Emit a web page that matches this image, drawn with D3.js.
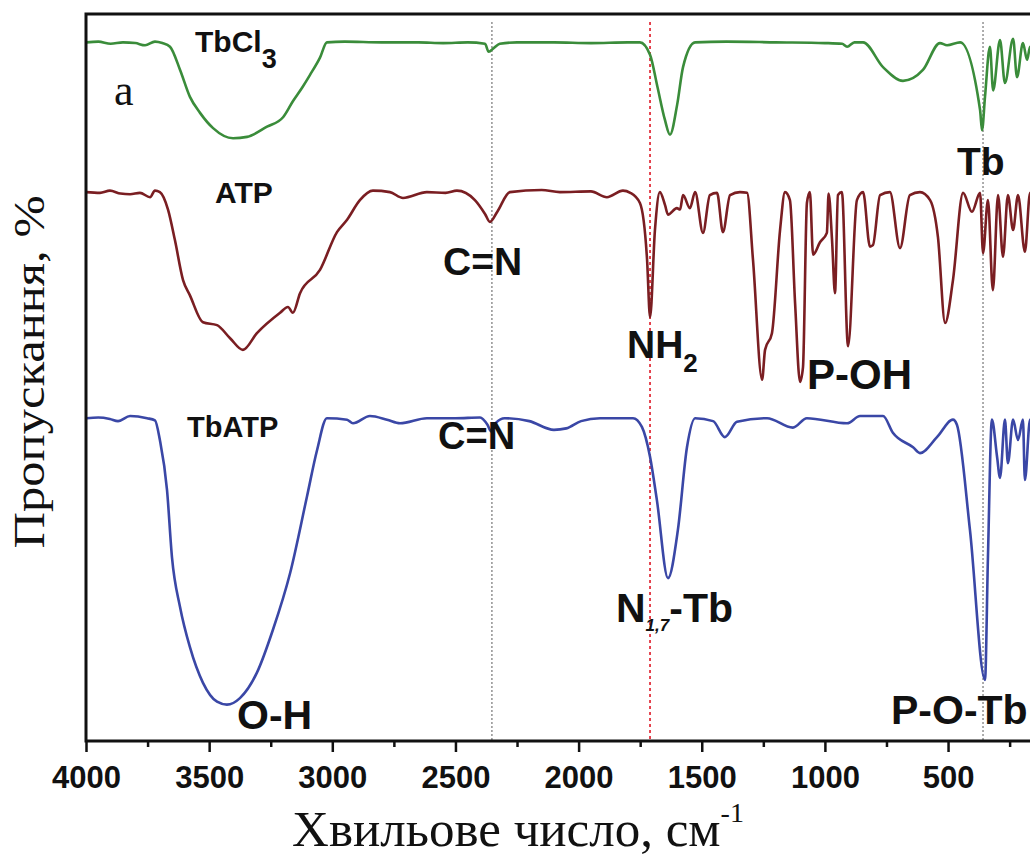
<!DOCTYPE html>
<html>
<head>
<meta charset="utf-8">
<script src="https://cdn.jsdelivr.net/npm/d3@7"></script>
<style>
  html, body { margin: 0; padding: 0; background: #fff; }
  svg { display: block; }
</style>
</head>
<body>
<svg id="chart" width="1030" height="861"></svg>
<script>
// IR spectra: wavenumber (cm-1) and stacked transmittance values
const tbcl3 = [
  [4000,96.1],[3950,96.2],[3900,95.9],[3850,96.1],[3800,96.0],[3760,95.7],[3720,96.2],[3690,96.0],
  [3659,95.5],[3618,92.3],[3578,88.6],[3537,86.4],[3484,84.3],[3403,82.9],[3346,83.1],[3265,84.5],
  [3200,85.8],[3160,88.0],[3120,90.0],[3091,91.6],[3050,94.0],[3022,96.1],[2950,96.2],[2800,96.1],
  [2650,96.1],[2550,96.0],[2450,96.1],[2380,95.9],[2365,94.8],[2345,95.3],[2320,95.9],[2250,96.1],
  [2100,96.1],[1950,96.0],[1800,96.1],[1751,96.1],[1710,94.4],[1680,90.0],[1650,85.5],[1629,83.4],
  [1600,87.5],[1576,92.7],[1527,96.1],[1400,96.2],[1200,96.1],[1000,96.0],[930,95.9],[910,95.5],
  [880,96.1],[845,96.1],[764,92.7],[683,90.8],[602,92.3],[533,96.0],[504,95.7],[451,96.1],
  [370,86.8],[362,84.0],[350,88.6],[330,95.5],[317,89.5],[289,96.4],[269,90.5],[236,96.6],
  [220,91.3],[196,96.0],[179,93.7],[167,95.5],[150,94.5]
];

const atp = [
  [4000,75.5],[3943,75.4],[3903,75.7],[3860,75.3],[3821,75.2],[3781,75.4],[3740,74.8],[3720,75.7],
  [3700,75.5],[3667,73.1],[3639,68.9],[3606,63.4],[3578,61.3],[3525,57.6],[3468,57.2],[3415,55.4],
  [3363,53.8],[3306,56.1],[3212,58.9],[3180,59.7],[3160,58.9],[3131,61.6],[3050,64.8],[2981,70.0],
  [2940,71.7],[2888,74.4],[2835,75.7],[2766,75.5],[2713,74.7],[2616,75.5],[2540,75.4],[2494,75.7],
  [2421,74.4],[2380,72.5],[2360,71.4],[2330,72.8],[2279,75.5],[2150,75.8],[2076,75.5],[1950,75.6],
  [1885,74.8],[1820,75.7],[1790,75.4],[1751,74.0],[1722,66.2],[1710,58.3],[1690,70.3],[1670,75.5],
  [1649,73.7],[1637,72.4],[1601,73.3],[1588,73.1],[1576,75.1],[1548,73.3],[1527,75.5],[1495,69.9],
  [1467,75.1],[1438,75.4],[1414,70.0],[1385,75.1],[1345,75.5],[1316,75.4],[1292,66.2],[1255,49.7],
  [1243,53.8],[1215,56.1],[1182,70.3],[1162,75.5],[1142,74.4],[1121,60.2],[1101,49.4],[1089,51.4],
  [1073,74.0],[1061,75.5],[1048,66.9],[1020,68.6],[992,69.9],[985,75.3],[971,68.9],[959,61.6],
  [947,75.1],[931,75.5],[906,54.3],[870,74.4],[845,75.5],[817,68.0],[805,68.2],[776,75.1],
  [736,75.5],[695,67.8],[655,75.1],[614,75.5],[573,74.4],[541,69.3],[512,57.5],[480,63.4],
  [439,75.4],[403,72.8],[370,75.4],[358,67.1],[338,74.4],[318,62.0],[297,75.1],[277,66.6],
  [257,75.1],[236,70.3],[216,75.1],[188,67.3],[167,75.4],[150,74.0]
];

const tbatp = [
  [4000,44.4],[3950,44.5],[3903,44.3],[3870,44.0],[3821,44.7],[3752,44.4],[3720,44.1],[3700,41.4],
  [3671,34.5],[3651,25.3],[3618,18.4],[3578,12.9],[3525,8.0],[3468,5.4],[3428,5.0],[3375,5.9],
  [3306,9.4],[3241,15.3],[3172,23.0],[3103,33.6],[3062,40.0],[3022,44.4],[2940,44.2],[2916,43.7],
  [2847,44.7],[2778,44.2],[2725,43.7],[2616,44.4],[2500,44.4],[2400,44.5],[2370,43.5],[2355,42.6],
  [2335,43.8],[2300,44.4],[2200,44.0],[2100,42.8],[2050,43.0],[1990,44.0],[1913,44.4],[1779,44.4],
  [1743,43.2],[1710,39.1],[1682,33.1],[1637,22.4],[1597,29.0],[1560,40.4],[1527,44.4],[1454,44.0],
  [1406,41.8],[1357,43.9],[1235,44.4],[1130,43.1],[1073,44.4],[910,43.7],[857,44.7],[764,44.7],
  [724,42.4],[642,40.4],[614,39.6],[545,41.8],[480,44.2],[464,43.5],[411,29.0],[350,8.4],
  [338,25.3],[322,44.2],[301,39.1],[289,36.2],[269,44.2],[257,38.2],[236,44.2],[216,41.4],
  [196,44.2],[188,35.9],[167,44.2],[150,43.5]
];

const seriesNames = ["TbCl3", "ATP", "TbATP"];
const seriesColors = ["#3a8c3a", "#7a1e22", "#3a47a6"];
const majorTicks = [4000, 3500, 3000, 2500, 2000, 1500, 1000, 500];
const minorTicks = [3750, 3250, 2750, 2250, 1750, 1250, 750, 250];
const markerLines = [2352, 1710, 358];

const svg = d3.select("#chart");
const plotLeft = 86, plotTop = 14, plotBottom = 741;
const x = d3.scaleLinear().domain([4000, 150]).range([plotLeft, plotLeft + 3850 * 0.2463]);
const y = d3.scaleLinear().domain([0, 100]).range([plotBottom, plotTop]);
const plotRight = x(150);

// reference lines
const markerStyles = [
  { color: "#8a8a8a", dash: "2,2", width: 1.4 },
  { color: "#e2323e", dash: "3,3", width: 1.8 },
  { color: "#8a8a8a", dash: "2,2", width: 1.4 }
];
svg.selectAll("line.marker").data(markerLines).join("line")
  .attr("class", "marker")
  .attr("x1", d => x(d)).attr("x2", d => x(d))
  .attr("y1", plotTop + 8).attr("y2", plotBottom)
  .attr("stroke", (d, i) => markerStyles[i].color)
  .attr("stroke-dasharray", (d, i) => markerStyles[i].dash)
  .attr("stroke-width", (d, i) => markerStyles[i].width);

// spectra
const line = d3.line().x(d => x(d[0])).y(d => y(d[1])).curve(d3.curveMonotoneX);
svg.selectAll("path.spectrum").data([tbcl3, atp, tbatp]).join("path")
  .attr("class", "spectrum")
  .attr("d", line)
  .attr("fill", "none")
  .attr("stroke", (d, i) => seriesColors[i])
  .attr("stroke-width", 2.6)
  .attr("stroke-linejoin", "round");

// frame
svg.append("path")
  .attr("d", `M${plotRight},${plotTop}H${plotLeft}V${plotBottom}H${plotRight}`)
  .attr("fill", "none").attr("stroke", "#111").attr("stroke-width", 3);

// x axis
const axisMajor = svg.append("g").attr("transform", `translate(0,${plotBottom})`)
  .call(d3.axisBottom(x).tickValues(majorTicks).tickSize(11).tickPadding(14).tickFormat(d3.format("d")));
const axisMinor = svg.append("g").attr("transform", `translate(0,${plotBottom})`)
  .call(d3.axisBottom(x).tickValues(minorTicks).tickSize(6).tickFormat(""));
[axisMajor, axisMinor].forEach(g => {
  g.select(".domain").remove();
  g.selectAll(".tick line").attr("stroke", "#111").attr("stroke-width", 2.5);
});
axisMajor.selectAll(".tick text")
  .attr("font-family", "Liberation Sans, Arial, sans-serif")
  .attr("font-weight", "bold").attr("font-size", 31).attr("fill", "#111");

// axis titles
const serif = "Liberation Serif, Times New Roman, serif";
const xt = svg.append("text")
  .attr("x", 518).attr("y", 846)
  .attr("text-anchor", "middle")
  .attr("font-family", serif)
  .attr("font-size", 51).attr("fill", "#111");
xt.append("tspan").text("Хвильове число, см");
xt.append("tspan").attr("font-size", 28).attr("dy", -24).text("-1");

svg.append("text")
  .attr("transform", "translate(44,372) rotate(-90) scale(1.15,1)")
  .attr("text-anchor", "middle")
  .attr("font-family", serif)
  .attr("font-size", 44).attr("fill", "#111")
  .text("Пропускання, %");

// annotations
const sans = "Liberation Sans, Arial, sans-serif";
function label(xp, yp, size, parts) {
  const t = svg.append("text").attr("x", xp).attr("y", yp)
    .attr("font-family", sans).attr("font-weight", "bold")
    .attr("font-size", size).attr("fill", "#111");
  parts.forEach(p => {
    const s = t.append("tspan").text(p.t);
    if (p.size) s.attr("font-size", p.size);
    if (p.dy) s.attr("dy", p.dy);
    if (p.italic) s.attr("font-style", "italic");
  });
  return t;
}

svg.append("text").attr("x", 114).attr("y", 105)
  .attr("font-family", serif)
  .attr("font-size", 44).attr("fill", "#111").text("a");

label(195, 52, 30, [{ t: "TbCl" }, { t: "3", size: 27, dy: 16 }]);
label(215, 203, 30, [{ t: "ATP" }]);
label(187, 437, 29, [{ t: "TbATP" }]);
label(957, 175, 39, [{ t: "Tb" }]);
label(443, 275, 39, [{ t: "C=N" }]);
label(627, 358, 39, [{ t: "NH" }, { t: "2", size: 26, dy: 14 }]);
label(807, 389, 42, [{ t: "P-OH" }]);
label(438, 449, 38, [{ t: "C=N" }]);
label(616, 622, 41, [{ t: "N" }, { t: "1,7", size: 17, dy: 9, italic: true }, { t: "-Tb", dy: -9 }]);
label(237, 729, 41, [{ t: "O-H" }]);
label(891, 724, 41, [{ t: "P-O-Tb" }]);
</script>
</body>
</html>
